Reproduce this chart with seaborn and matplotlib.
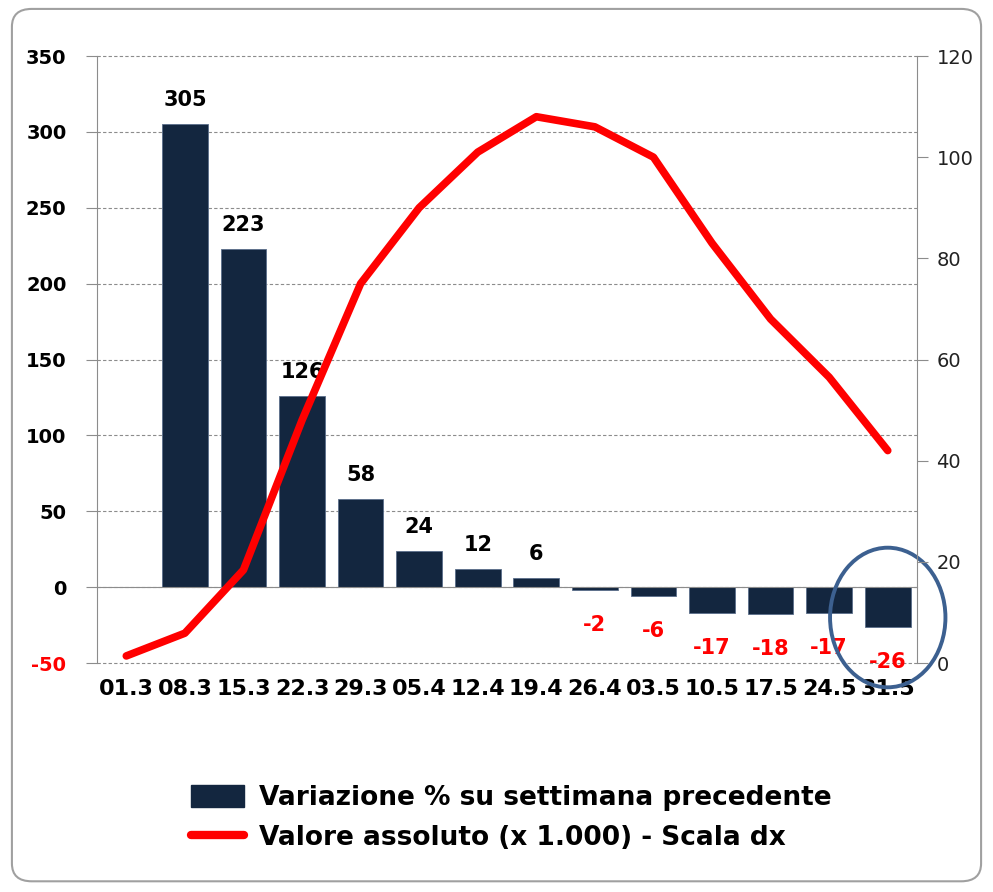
import numpy as np
import pandas as pd
import seaborn as sns
import matplotlib.pyplot as plt
from matplotlib.patches import Patch, Ellipse, FancyBboxPatch
from matplotlib.lines import Line2D

# Data
dates = ['01.3', '08.3', '15.3', '22.3', '29.3', '05.4', '12.4',
         '19.4', '26.4', '03.5', '10.5', '17.5', '24.5', '31.5']
pct_change = [305, 223, 126, 58, 24, 12, 6, -2, -6, -17, -18, -17, -26]  # from 08.3
abs_value = [1.4, 5.9, 18.4, 48, 75, 90, 101, 108, 106, 100, 83, 68, 56.5, 42]

bar_df = pd.DataFrame({'date': dates[1:], 'pct': pct_change})
line_df = pd.DataFrame({'pos': np.arange(len(dates)), 'value': abs_value})

navy = '#13263F'
red = '#FF0000'
grey = '#8C8C8C'
narrow = ['Liberation Sans Narrow', 'DejaVu Sans']

sns.set_style('white')
plt.rcParams['axes.unicode_minus'] = False
plt.rcParams['text.color'] = 'black'

fig = plt.figure(figsize=(9.93, 8.92), dpi=100)
ax = fig.add_axes([0.0977, 0.2567, 0.8258, 0.6805])

# Bars
sns.barplot(data=bar_df, x='date', y='pct', order=dates, color=navy,
            width=0.78, saturation=1, edgecolor='#5A6E8A', linewidth=0.6, ax=ax)
ax.set_xlim(-0.5, len(dates) - 0.5)
ax.set_ylim(-50, 350)
ax.set_yticks(range(-50, 351, 50))
ax.set_xlabel('')
ax.set_ylabel('')

# Gridlines and spines
ax.yaxis.grid(True, linestyle=(0, (3, 2)), color=grey, linewidth=0.8)
ax.set_axisbelow(True)
for gl in ax.get_ygridlines():
    gl.set_clip_on(False)
for side in ['top', 'right']:
    ax.spines[side].set_visible(False)
ax.spines['left'].set_color(grey)
ax.spines['bottom'].set_color(grey)
ax.spines['bottom'].set_position(('data', 0))
ax.tick_params(axis='y', direction='out', length=8, color=grey, width=0.8,
               labelsize=14, pad=14)
for lbl in ax.get_yticklabels():
    lbl.set_fontweight('bold')
    lbl.set_color(red if lbl.get_text() == '-50' else 'black')

ax.set_xticks(np.arange(len(dates)))
ax.set_xticklabels(dates, fontfamily=narrow, fontweight='bold', fontsize=16)
ax.set_xticks(np.arange(len(dates) - 1) + 0.5, minor=True)
ax.tick_params(axis='x', which='major', length=0, pad=66, labelcolor='black')
ax.tick_params(axis='x', which='minor', direction='out', length=7, color=grey, width=0.8)

# Bar labels
cont = ax.containers[0]
pos_labels = [str(v) if v > 0 else '' for v in pct_change]
neg_labels = [str(v) if v < 0 else '' for v in pct_change]
ax.bar_label(cont, labels=pos_labels, padding=10, fontsize=15,
             fontweight='bold', fontfamily=narrow, color='black')
ax.bar_label(cont, labels=neg_labels, padding=18, fontsize=15,
             fontweight='bold', fontfamily=narrow, color=red)

# Line on secondary axis
ax2 = ax.twinx()
sns.lineplot(data=line_df, x='pos', y='value', color=red, linewidth=5.5,
             solid_capstyle='round', solid_joinstyle='round', ax=ax2)
ax2.set_ylim(0, 120)
ax2.set_yticks(range(0, 121, 20))
ax2.set_xlim(-0.5, len(dates) - 0.5)
ax2.set_ylabel('')
ax2.set_xlabel('')
for side in ['top', 'left', 'bottom']:
    ax2.spines[side].set_visible(False)
ax2.spines['right'].set_color(grey)
ax2.tick_params(axis='y', direction='out', length=8, color=grey, width=0.8,
                labelsize=14, labelcolor='#222222', pad=6, right=True)

# Highlight circle on last week
ax.add_patch(Ellipse((len(dates) - 1, -20), 1.97, 92, fill=False,
                     edgecolor='#3C6090', linewidth=2.8, clip_on=False, zorder=5))

# Legend
handles = [Patch(facecolor=navy, edgecolor=navy),
           Line2D([0], [0], color=red, linewidth=6, solid_capstyle='round')]
labels = ['Variazione % su settimana precedente',
          'Valore assoluto (x 1.000) - Scala dx']
leg = fig.legend(handles, labels, loc='center', bbox_to_anchor=(0.515, 0.083),
                 frameon=False, prop={'family': narrow, 'weight': 'bold', 'size': 19},
                 handlelength=2.0, handleheight=0.9, labelspacing=0.55,
                 handletextpad=0.6)
for t in leg.get_texts():
    t.set_color('black')

# Outer rounded frame
fig.patches.append(FancyBboxPatch((0.012, 0.012), 0.976, 0.978,
                                  boxstyle='round,pad=0,rounding_size=0.02',
                                  transform=fig.transFigure, fill=False,
                                  edgecolor='#A0A0A0', linewidth=1.5))

fig.savefig('out.png', dpi=100)
